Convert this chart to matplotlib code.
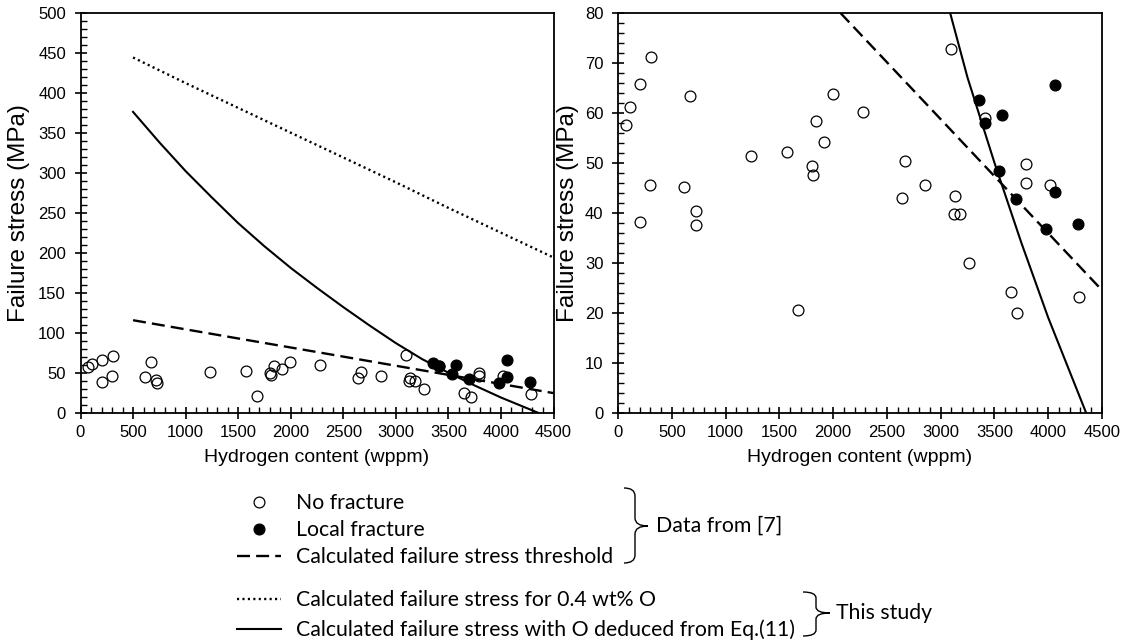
import numpy as np
import matplotlib
matplotlib.use("Agg")
import matplotlib.pyplot as plt
from matplotlib.path import Path
from matplotlib.patches import PathPatch
from matplotlib.ticker import MultipleLocator

# --- data -----------------------------------------------------------------
# no fracture (open circles)
h_open = [70, 114, 208, 309, 299, 205, 672, 611, 722, 729, 1236, 1575, 1676,
          1800, 1817, 1840, 1917, 1995, 2280, 2643, 2673, 2858, 3093, 3136,
          3123, 3180, 3267, 3412, 3653, 3714, 3791, 3791, 4020, 4282]
s_open = [57.6, 61.1, 65.7, 71.2, 45.6, 38.1, 63.4, 45.2, 40.3, 37.5, 51.3,
          52.2, 20.5, 49.4, 47.5, 58.4, 54.2, 63.8, 60.2, 42.9, 50.4, 45.5,
          72.7, 43.3, 39.7, 39.7, 29.9, 58.9, 24.2, 19.9, 49.7, 46.0, 45.6, 23.1]
# local fracture (filled circles)
h_local = [3358, 3415, 3570, 3539, 3700, 4060, 4060, 3980, 4275]
s_local = [62.6, 57.9, 59.6, 48.3, 42.7, 65.6, 44.2, 36.8, 37.8]

# calculated curves
h_calc = [500, 1000, 1500, 2000, 2500, 3000, 3500, 4000, 4500]
s_threshold = [115.6, 104.2, 92.8, 81.5, 70.1, 58.7, 47.3, 35.9, 24.5]
s_04O = [444, 412, 381, 350, 319, 288, 256, 225, 194]
h_eq11 = [500, 750, 1000, 1250, 1500, 1750, 2000, 2250, 2500, 2750, 3000,
          3250, 3500, 3750, 4000, 4500]
s_eq11 = [376, 338, 302, 269, 237, 208, 181, 156, 132, 109, 87, 67, 50, 34,
          19, -8]

lab_open = "No fracture"
lab_local = "Local fracture"
lab_thr = "Calculated failure stress threshold"
lab_04O = "Calculated failure stress for 0.4 wt% O"
lab_eq11 = "Calculated failure stress with O deduced from Eq.(11)"

W, H = 1125, 640
fig = plt.figure(figsize=(W / 100, H / 100), dpi=100)
plt.rcParams["font.family"] = ["Liberation Sans", "DejaVu Sans"]

ax1 = fig.add_axes([80.5 / W, 1 - 412.7 / H, 473 / W, 400 / H])
ax2 = fig.add_axes([618 / W, 1 - 412.7 / H, 484 / W, 400 / H])

mk = dict(ms=7.8, mew=0.9, ls="none", zorder=4)
for ax in (ax1, ax2):
    l_thr, = ax.plot(h_calc, s_threshold, color="k", lw=1.7, ls=(0, (5.5, 2.6)))
    l_04O, = ax.plot(h_calc, s_04O, color="k", lw=1.7, ls=(0, (0.9, 1.4)))
    l_eq11, = ax.plot(h_eq11, s_eq11, color="k", lw=1.5)
    p_open, = ax.plot(h_open, s_open, "o", mfc="none", mec="k", **mk)
    p_local, = ax.plot(h_local, s_local, "o", mfc="k", mec="k", **mk)
    ax.set_xlim(0, 4500)
    ax.xaxis.set_major_locator(MultipleLocator(500))
    ax.xaxis.set_minor_locator(MultipleLocator(100))
    ax.tick_params(which="major", direction="inout", length=8, width=1.2,
                   labelsize=12)
    ax.tick_params(which="minor", direction="in", length=4, width=1.0)
    ax.tick_params(axis="x", which="major", pad=5)
    ax.tick_params(axis="y", which="major", pad=6.5)
    for sp in ax.spines.values():
        sp.set_linewidth(1.3)
    ax.set_xlabel("Hydrogen content (wppm)", fontsize=14)
    ax.set_ylabel("Failure stress (MPa)", fontsize=17.5)
    ax.xaxis.set_label_coords(0.5, -0.09)

ax1.set_ylim(0, 500)
ax1.yaxis.set_major_locator(MultipleLocator(50))
ax1.yaxis.set_minor_locator(MultipleLocator(10))
ax1.yaxis.set_label_coords(-0.107, 0.5)

ax2.set_ylim(0, 80)
ax2.yaxis.set_major_locator(MultipleLocator(10))
ax2.yaxis.set_minor_locator(MultipleLocator(2))
ax2.yaxis.set_label_coords(-0.08, 0.5)

# --- legend block -----------------------------------------------------------
lfont = dict(family=["Lato", "DejaVu Sans"], size=15.3)
leg1 = fig.legend([p_open, p_local, l_thr], [lab_open, lab_local, lab_thr],
                  loc="upper left", bbox_to_anchor=(237 / W, 1 - 493 / H),
                  frameon=False, prop=lfont, handlelength=2.05,
                  handletextpad=0.75, labelspacing=0.33, borderpad=0,
                  borderaxespad=0, numpoints=1)
leg2 = fig.legend([l_04O, l_eq11], [lab_04O, lab_eq11],
                  loc="upper left", bbox_to_anchor=(237 / W, 1 - 590 / H),
                  frameon=False, prop=lfont, handlelength=2.05,
                  handletextpad=0.75, labelspacing=0.45, borderpad=0,
                  borderaxespad=0)

# braces drawn in pixel space
ov = fig.add_axes([0, 0, 1, 1])
ov.set_xlim(0, W)
ov.set_ylim(H, 0)
ov.axis("off")


def brace(xl, xm, xt, yt, ym, yb, r=8):
    codes = [Path.MOVETO, Path.CURVE3, Path.CURVE3, Path.LINETO, Path.CURVE3,
             Path.CURVE3, Path.MOVETO, Path.CURVE3, Path.CURVE3, Path.LINETO,
             Path.CURVE3, Path.CURVE3]
    verts = [(xl, yt), (xm, yt), (xm, yt + r), (xm, ym - r), (xm, ym), (xt, ym),
             (xt, ym), (xm, ym), (xm, ym + r), (xm, yb - r), (xm, yb), (xl, yb)]
    ov.add_patch(PathPatch(Path(verts, codes), fc="none", ec="k", lw=1.0))


brace(624, 635, 648, 488, 526, 563)
brace(803, 816, 830, 592, 613, 636, r=6)
ov.text(656, 526, "Data from [7]", va="center", ha="left", **lfont)
ov.text(836, 613, "This study", va="center", ha="left", **lfont)

fig.savefig("out.png", dpi=100)
